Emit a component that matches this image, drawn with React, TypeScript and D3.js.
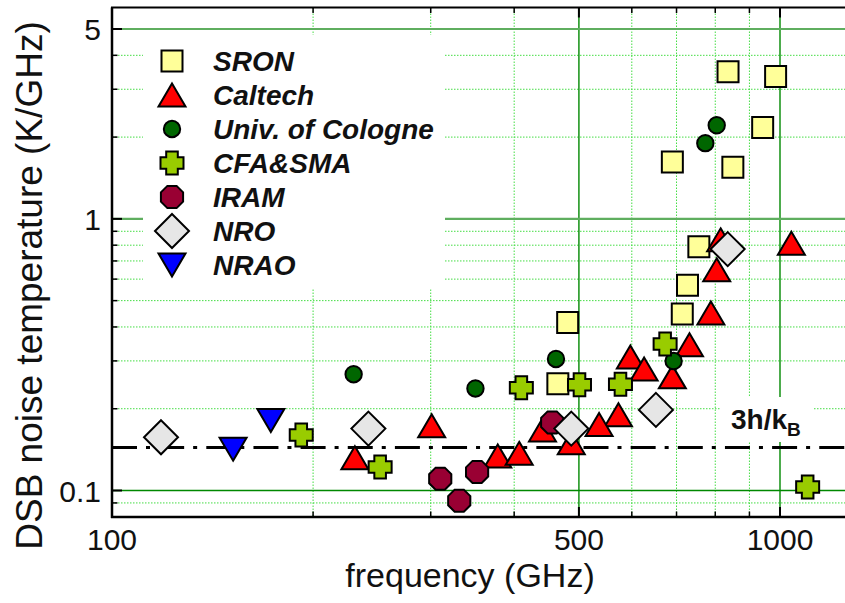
import React from 'react';
import * as d3 from 'd3';

// ---------- data ----------
const sronFreq = [836, 985, 942, 690, 850, 756, 727, 714, 481, 465];
const sronNoise = [3.48, 3.34, 2.17, 1.62, 1.55, 0.79, 0.57, 0.446, 0.415, 0.247];

const caltechFreq = [1040, 815, 804, 788, 732, 597, 626, 690, 573, 536, 487, 441, 301, 378, 407, 231];
const caltechNoise = [0.814, 0.837, 0.649, 0.45, 0.344, 0.31, 0.28, 0.262, 0.19, 0.175, 0.15, 0.167, 0.173, 0.134, 0.137, 0.132];

const cologneFreq = [804, 773, 462, 350, 693, 230];
const cologneNoise = [2.21, 1.9, 0.305, 0.2375, 0.2996, 0.268];

const cfaFreq = [673, 577, 501, 410, 1100, 192, 252];
const cfaNoise = [0.346, 0.246, 0.245, 0.239, 0.103, 0.16, 0.122];

const iramFreq = [310, 331, 352, 456];
const iramNoise = [0.1105, 0.0917, 0.117, 0.178];

const nroFreq = [118.4, 242, 487, 652, 835];
const nroNoise = [0.157, 0.169, 0.169, 0.198, 0.774];

const nraoFreq = [151.8, 172.9];
const nraoNoise = [0.142, 0.181];

const seriesNames = ['SRON', 'Caltech', 'Univ. of Cologne', 'CFA&SMA', 'IRAM', 'NRO', 'NRAO'];
const seriesColors = ['#ffff99', '#ff0000', '#006600', '#99cc00', '#990033', '#e6e6e6', '#0000ff'];

const xTicksMajor = [100, 500, 1000];
const xTicksMinor = [200, 300, 400, 600, 700, 800, 900];
const yTicksMajor = [0.1, 1, 5];
const yTicksMinor = [0.09, 0.2, 0.3, 0.4, 0.5, 0.6, 0.7, 0.8, 0.9, 2, 3, 4];
const xTickLabels = ['100', '500', '1000'];
const yTickLabels = ['0.1', '1', '5'];

const quantumLimit = 0.144; // 3h/kB in K/GHz

// ---------- layout ----------
const W = 845;
const H = 603;
const L = 112;
const R = 870;
const T = 7.5;
const B = 517;

const x = d3.scaleLog().domain([100, 1000]).range([112, 780]);
const y = d3.scaleLog().domain([0.1, 5]).range([490.5, 29]);

const FONT = '"Liberation Sans", Arial, Helvetica, sans-serif';

// ---------- marker shapes ----------
const sq = (s: number) => `M${-s / 2},${-s / 2}h${s}v${s}h${-s}Z`;
const triUp = (w: number, h: number) => `M0,${-h / 2}L${w / 2},${h / 2}L${-w / 2},${h / 2}Z`;
const triDown = (w: number, h: number) => `M0,${h / 2}L${w / 2},${-h / 2}L${-w / 2},${-h / 2}Z`;
const cross = (a: number, b: number) =>
  `M${-b},${-a}H${b}V${-b}H${a}V${b}H${b}V${a}H${-b}V${b}H${-a}V${-b}H${-b}Z`;
const octagon = (r: number) => {
  const pts = d3.range(8).map((k) => {
    const ang = ((22.5 + 45 * k) * Math.PI) / 180;
    return [r * Math.cos(ang), r * Math.sin(ang)];
  });
  return 'M' + pts.map((p) => p.join(',')).join('L') + 'Z';
};
const diamond = (h: number) => `M0,${-h}L${h},0L0,${h}L${-h},0Z`;
const circle = (r: number) => `M${r},0A${r},${r},0,1,1,${-r},0A${r},${r},0,1,1,${r},0Z`;

const shapes = [
  sq(21),
  triUp(27, 23),
  circle(8.2),
  cross(11.5, 5.8),
  octagon(12),
  diamond(17),
  triDown(27, 23),
];

const seriesFreq = [sronFreq, caltechFreq, cologneFreq, cfaFreq, iramFreq, nroFreq, nraoFreq];
const seriesNoise = [sronNoise, caltechNoise, cologneNoise, cfaNoise, iramNoise, nroNoise, nraoNoise];

export default function App() {
  const minorGridColor = '#44dd44';
  return (
    <svg
      width={W}
      height={H}
      viewBox={`0 0 ${W} ${H}`}
      style={{ position: 'absolute', left: 0, top: 0, background: '#fff' }}
      fontFamily={FONT}
    >
      <defs>
        <clipPath id="plotClip">
          <rect x={L} y={T} width={R - L} height={B - T} />
        </clipPath>
      </defs>
      <rect x={0} y={0} width={W} height={H} fill="#fff" />

      {/* minor grid */}
      <g stroke={minorGridColor} strokeWidth={1} strokeDasharray="1.5 1.5">
        {xTicksMinor.map((v) => (
          <line key={'gx' + v} x1={x(v)} x2={x(v)} y1={T} y2={B} />
        ))}
        {yTicksMinor.map((v) => (
          <line key={'gy' + v} x1={L} x2={R} y1={y(v)} y2={y(v)} />
        ))}
      </g>
      {/* major grid */}
      <g>
        {[500, 1000].map((v) => (
          <line key={'Gx' + v} x1={x(v)} x2={x(v)} y1={T} y2={B} stroke="#008800" strokeWidth={1.4} />
        ))}
        <line x1={L} x2={R} y1={y(0.1)} y2={y(0.1)} stroke="#008800" strokeWidth={1.4} />
        {[1, 5].map((v) => (
          <line key={'Gy' + v} x1={L} x2={R} y1={y(v)} y2={y(v)} stroke="#5fae5f" strokeWidth={2.2} />
        ))}
      </g>

      {/* legend background & label background */}
      <rect x={143} y={35} width={302} height={253} fill="#fff" />
      <rect x={720} y={397} width={93} height={45} fill="#fff" />

      {/* 3h/kB line */}
      <line
        x1={L}
        x2={R}
        y1={y(quantumLimit)}
        y2={y(quantumLimit)}
        stroke="#000"
        strokeWidth={3.2}
        strokeDasharray="25 9 4 9.15"
      />
      <text x={731} y={429} fontSize={28} fontWeight="bold" fill="#111">
        3h/k
        <tspan fontSize={19} dy={7}>
          B
        </tspan>
      </text>

      {/* data markers */}
      <g clipPath="url(#plotClip)">
        {seriesNames.map((name, si) => (
          <g key={name}>
            {seriesFreq[si].map((f, i) => (
              <path
                key={i}
                d={shapes[si]}
                transform={`translate(${x(f)},${y(seriesNoise[si][i])})`}
                fill={seriesColors[si]}
                stroke="#000"
                strokeWidth={2}
                strokeLinejoin="miter"
              />
            ))}
          </g>
        ))}
      </g>

      {/* legend */}
      <g>
        {seriesNames.map((name, si) => {
          const cy = 61 + si * 34;
          return (
            <g key={'lg' + name}>
              <path
                d={shapes[si]}
                transform={`translate(172,${cy})`}
                fill={seriesColors[si]}
                stroke="#000"
                strokeWidth={2}
              />
              <text
                x={213}
                y={cy + 10}
                fontSize={28}
                fontWeight="bold"
                fontStyle="italic"
                fill="#111"
              >
                {name}
              </text>
            </g>
          );
        })}
      </g>

      {/* frame & axes */}
      <g stroke="#000" fill="none">
        <line x1={L} x2={L} y1={T} y2={B + 1} strokeWidth={2.5} />
        <line x1={L - 1} x2={R} y1={B} y2={B} strokeWidth={2.5} />
        <line x1={L - 1} x2={R} y1={T} y2={T} strokeWidth={2} />
        {xTicksMajor.concat(xTicksMinor).map((v) => {
          const len = xTicksMajor.includes(v) ? 10 : 5.5;
          const w = xTicksMajor.includes(v) ? 2 : 1.5;
          return (
            <g key={'tx' + v}>
              <line x1={x(v)} x2={x(v)} y1={B} y2={B - len} strokeWidth={w} />
              <line x1={x(v)} x2={x(v)} y1={T} y2={T + len} strokeWidth={w} />
            </g>
          );
        })}
        {yTicksMajor.concat(yTicksMinor).map((v) => {
          const len = yTicksMajor.includes(v) ? 10 : 5.5;
          const w = yTicksMajor.includes(v) ? 2 : 1.5;
          return <line key={'ty' + v} x1={L} x2={L + len} y1={y(v)} y2={y(v)} strokeWidth={w} />;
        })}
      </g>

      {/* tick labels */}
      <g fontSize={30} fill="#111">
        {xTicksMajor.map((v, i) => (
          <text key={'lx' + v} x={x(v)} y={550} textAnchor="middle">
            {xTickLabels[i]}
          </text>
        ))}
        {yTicksMajor.map((v, i) => (
          <text key={'ly' + v} x={101} y={y(v) + 11} textAnchor="end">
            {yTickLabels[i]}
          </text>
        ))}
      </g>

      {/* axis titles */}
      <text x={470} y={587} fontSize={34} textAnchor="middle" fill="#111">
        frequency (GHz)
      </text>
      <text
        transform={`translate(42,285.5) rotate(-90)`}
        fontSize={37}
        textAnchor="middle"
        fill="#111"
      >
        DSB noise temperature (K/GHz)
      </text>
    </svg>
  );
}
